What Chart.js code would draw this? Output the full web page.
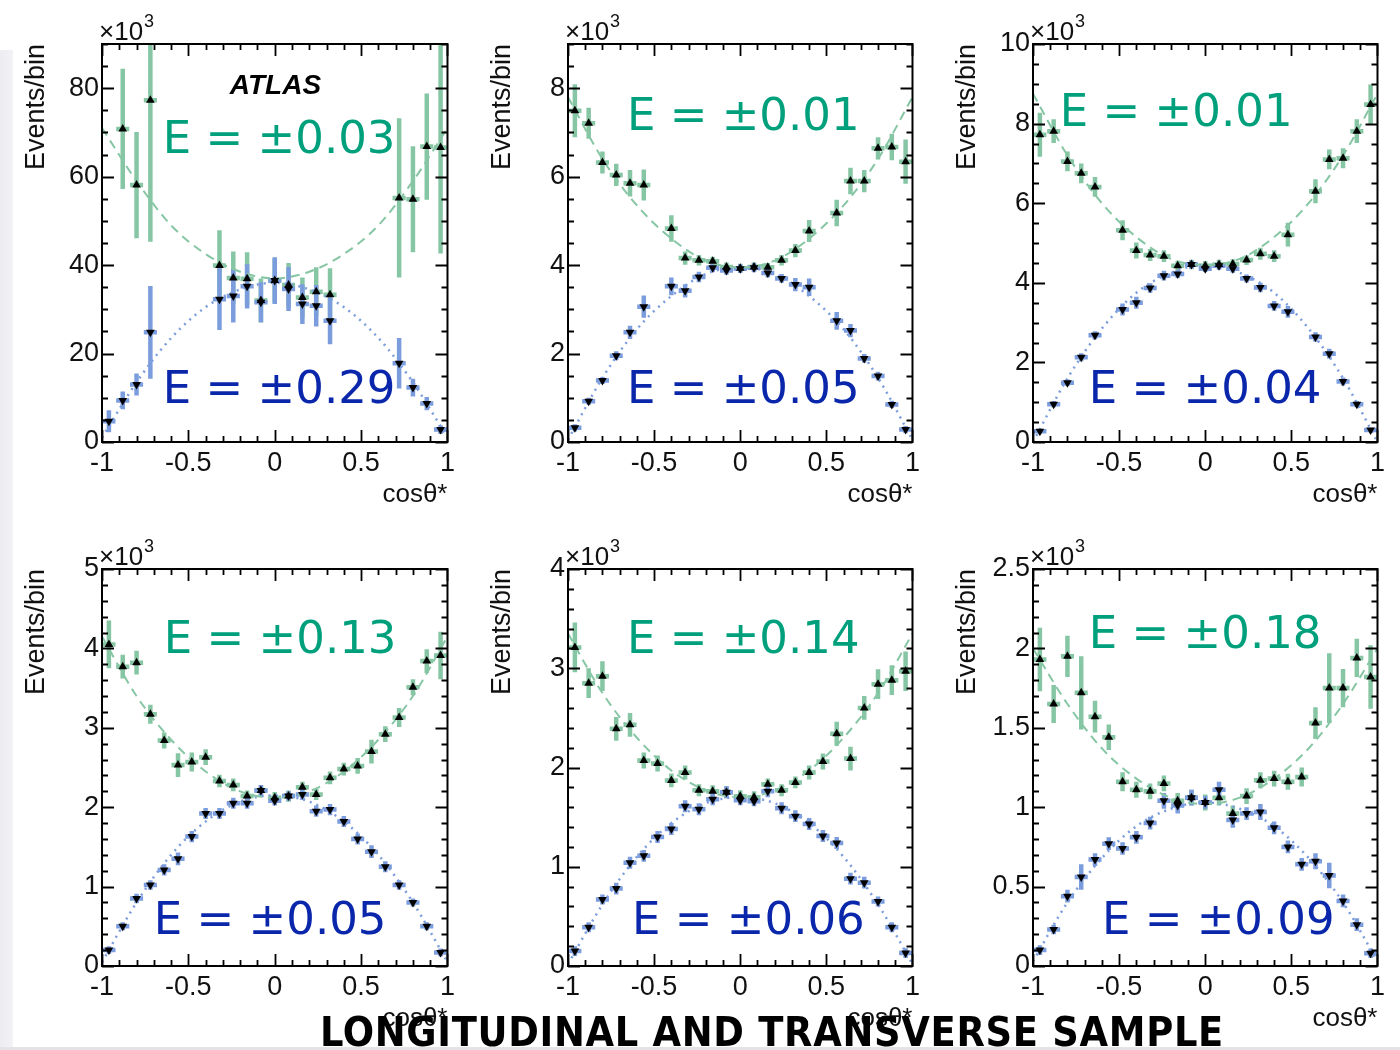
<!DOCTYPE html>
<html><head><meta charset="utf-8">
<script src="https://cdn.jsdelivr.net/npm/chart.js@4.4.1/dist/chart.umd.min.js"></script>
<style>
html,body{margin:0;padding:0;background:#fff;}
body{width:1400px;height:1050px;position:relative;overflow:hidden;}
canvas{position:absolute;}
#strip{position:absolute;left:0;top:50px;width:13px;height:1000px;background:linear-gradient(to right,#ececf1,#f3f3f6);}
#bline{position:absolute;left:0;top:1047px;width:1400px;height:3px;background:#e4e4e8;}
#title{position:absolute;left:320px;top:1012px;font-family:'DejaVu Sans Condensed','DejaVu Sans',sans-serif;font-stretch:condensed;font-weight:bold;font-size:41px;line-height:41px;letter-spacing:0.7px;color:#000;white-space:nowrap;z-index:5;}
</style></head>
<body>
<div id="strip"></div><div id="bline"></div>
<canvas id="c1"></canvas><canvas id="c2"></canvas><canvas id="c3"></canvas>
<canvas id="c4"></canvas><canvas id="c5"></canvas><canvas id="c6"></canvas>
<div id="title">LONGITUDINAL AND TRANSVERSE SAMPLE</div>
<script>
// ---------- data ----------
const binCenters = [-0.96,-0.88,-0.80,-0.72,-0.64,-0.56,-0.48,-0.40,-0.32,-0.24,-0.16,-0.08,0.00,0.08,0.16,0.24,0.32,0.40,0.48,0.56,0.64,0.72,0.80,0.88,0.96];
const xTickValues = [-1,-0.5,0,0.5,1];
const fitX = [-1,-0.8,-0.6,-0.4,-0.2,0,0.2,0.4,0.6,0.8,1];
const yTitle = "Events/bin";
const xTitle = "cosθ*";
const mainTitle = "LONGITUDINAL AND TRANSVERSE SAMPLE";

// panel 1
const p1Long     = [null,70.8,58.1,77.3,null,null,null,null,39.9,37.1,36.9,32.0,36.5,35.5,32.7,34.0,33.3,null,null,null,null,55.2,54.9,66.8,66.6];
const p1LongErr  = [null,13.6,12,32,null,null,null,null,8,6,6,5,5,5,4.5,5.5,6,null,null,null,null,18,12,12,24];
const p1Trans    = [4.7,9.4,13.0,24.8,null,null,null,null,32.3,33.0,35.2,31.6,36.5,34.6,31.2,30.8,27.4,null,null,null,null,17.8,12.3,8.7,2.8];
const p1TransErr = [2.5,2,2.5,10.5,null,null,null,null,7,6,5,4.5,5.3,5,4.5,4.7,5.3,null,null,null,null,5.7,2,1.5,1];
const p1FitLong  = [71,59,49,42.5,38.5,37,38.5,42.5,49,59,71];
const p1FitTrans = [1,13.5,23.5,30.5,34.5,36,34.5,30.5,23.5,13.5,1];
const p1YTicks = [0,20,40,60,80];
const p1YMax = 90;
const p1TextLong = "E = ±0.03", p1TextTrans = "E = ±0.29";

// panel 2
const p2Long     = [7.49,7.21,6.32,6.04,5.85,5.81,null,4.83,4.16,4.11,4.09,3.96,3.93,3.96,3.95,4.11,4.33,4.77,null,5.18,5.90,5.90,6.64,6.67,6.34];
const p2LongErr  = [0.6,0.35,0.25,0.25,0.3,0.35,null,0.3,0.15,0.12,0.1,0.1,0.1,0.1,0.1,0.12,0.15,0.25,null,0.3,0.3,0.25,0.25,0.3,0.5];
const p2Trans    = [0.32,0.92,1.39,1.95,2.48,3.06,null,3.52,3.42,3.73,3.94,3.88,3.92,3.94,3.82,3.70,3.56,3.50,null,2.74,2.52,1.89,1.49,0.85,0.28];
const p2TransErr = [0.08,0.08,0.08,0.1,0.15,0.25,null,0.2,0.15,0.12,0.1,0.1,0.1,0.1,0.1,0.1,0.15,0.2,null,0.2,0.15,0.1,0.1,0.08,0.08];
const p2FitLong  = [7.8,6.4,5.35,4.6,4.1,3.95,4.1,4.6,5.35,6.4,7.8];
const p2FitTrans = [0.05,1.45,2.55,3.3,3.8,3.95,3.8,3.3,2.55,1.45,0.05];
const p2YTicks = [0,2,4,6,8];
const p2YMax = 9;
const p2TextLong = "E = ±0.01", p2TextTrans = "E = ±0.05";

// panel 3
const p3Long     = [7.72,7.81,7.05,6.75,6.41,null,5.32,4.81,4.70,4.67,4.43,4.46,4.43,4.46,4.47,4.57,4.73,4.67,5.21,null,6.30,7.10,7.13,7.81,8.48];
const p3LongErr  = [0.55,0.3,0.25,0.25,0.25,null,0.25,0.2,0.15,0.15,0.12,0.12,0.12,0.12,0.12,0.12,0.15,0.15,0.3,null,0.3,0.25,0.25,0.3,0.5];
const p3Trans    = [0.27,0.95,1.49,2.13,2.68,null,3.33,3.50,3.87,4.18,4.22,4.46,4.35,4.43,4.35,4.11,3.88,3.42,3.27,null,2.64,2.22,1.52,0.95,0.30];
const p3TransErr = [0.06,0.08,0.08,0.1,0.1,null,0.15,0.15,0.12,0.12,0.1,0.1,0.08,0.1,0.1,0.1,0.12,0.12,0.15,null,0.12,0.12,0.1,0.08,0.06];
const p3FitLong  = [8.75,7.2,6.0,5.15,4.6,4.45,4.6,5.15,6.0,7.2,8.75];
const p3FitTrans = [0.0,1.6,2.85,3.75,4.25,4.45,4.25,3.75,2.85,1.6,0.0];
const p3YTicks = [0,2,4,6,8,10];
const p3YMax = 10;
const p3TextLong = "E = ±0.01", p3TextTrans = "E = ±0.04";

// panel 4
const p4Long     = [4.05,3.77,3.82,3.17,2.84,2.53,2.57,2.63,2.33,2.28,2.14,2.21,2.12,2.14,2.25,2.16,2.37,2.48,2.52,2.70,2.92,3.13,3.51,3.84,3.91];
const p4LongErr  = [0.3,0.15,0.15,0.12,0.1,0.15,0.12,0.1,0.08,0.08,0.07,0.07,0.07,0.07,0.07,0.07,0.08,0.08,0.1,0.15,0.1,0.12,0.1,0.15,0.3];
const p4Trans    = [0.20,0.50,0.85,1.02,1.21,1.35,1.63,1.92,1.92,2.05,2.05,2.21,2.08,2.14,2.16,1.95,1.97,1.82,1.60,1.44,1.25,1.02,0.80,0.50,0.17];
const p4TransErr = [0.05,0.05,0.06,0.06,0.07,0.08,0.07,0.07,0.07,0.07,0.07,0.07,0.06,0.06,0.07,0.07,0.07,0.07,0.07,0.08,0.07,0.06,0.05,0.05,0.05];
const p4FitLong  = [4.15,3.4,2.85,2.45,2.2,2.12,2.2,2.45,2.85,3.4,4.15];
const p4FitTrans = [0.05,0.8,1.4,1.82,2.07,2.15,2.07,1.82,1.4,0.8,0.05];
const p4YTicks = [0,1,2,3,4,5];
const p4YMax = 5;
const p4TextLong = "E = ±0.13", p4TextTrans = "E = ±0.05";

// panel 5
const p5Long     = [3.21,2.85,2.92,2.39,2.43,2.07,2.04,1.87,1.95,1.77,1.76,1.75,1.71,1.70,1.83,1.77,1.85,1.95,2.06,2.34,2.09,2.60,2.84,2.88,2.97];
const p5LongErr  = [0.25,0.15,0.15,0.12,0.12,0.08,0.08,0.07,0.07,0.06,0.06,0.06,0.06,0.06,0.06,0.06,0.06,0.07,0.08,0.12,0.12,0.12,0.15,0.15,0.2];
const p5Trans    = [0.15,0.39,0.67,0.78,1.04,1.11,1.30,1.38,1.61,1.58,1.68,1.75,1.67,1.66,1.76,1.59,1.51,1.43,1.31,1.24,0.88,0.84,0.65,0.39,0.13];
const p5TransErr = [0.05,0.05,0.05,0.06,0.06,0.06,0.06,0.06,0.06,0.06,0.06,0.06,0.05,0.05,0.06,0.06,0.06,0.06,0.06,0.06,0.06,0.06,0.05,0.05,0.05];
const p5FitLong  = [3.35,2.75,2.3,1.97,1.77,1.7,1.77,1.97,2.3,2.75,3.35];
const p5FitTrans = [0.02,0.62,1.1,1.44,1.64,1.7,1.64,1.44,1.1,0.62,0.02];
const p5YTicks = [0,1,2,3,4];
const p5YMax = 4;
const p5TextLong = "E = ±0.14", p5TextTrans = "E = ±0.06";

// panel 6
const p6Long     = [1.93,1.65,1.95,1.72,1.57,1.44,1.16,1.11,1.10,1.15,1.04,1.06,1.03,1.06,0.96,1.07,1.17,1.18,1.16,1.19,1.53,1.75,1.75,1.94,1.82];
const p6LongErr  = [0.2,0.12,0.13,0.23,0.1,0.08,0.06,0.05,0.05,0.05,0.05,0.05,0.05,0.05,0.05,0.05,0.05,0.05,0.05,0.06,0.1,0.22,0.12,0.12,0.2];
const p6Trans    = [0.10,0.23,0.44,0.56,0.67,0.77,0.74,0.81,0.90,1.04,1.01,1.06,1.03,1.11,0.92,0.96,0.97,0.87,0.75,0.64,0.66,0.57,0.41,0.26,0.08];
const p6TransErr = [0.03,0.03,0.04,0.08,0.04,0.04,0.04,0.04,0.04,0.05,0.05,0.05,0.04,0.05,0.05,0.04,0.05,0.04,0.04,0.04,0.05,0.08,0.04,0.04,0.03];
const p6FitLong  = [2.0,1.65,1.37,1.18,1.06,1.02,1.06,1.18,1.37,1.65,2.0];
const p6FitTrans = [0.03,0.4,0.68,0.88,0.99,1.03,0.99,0.88,0.68,0.4,0.03];
const p6YTicks = [0,0.5,1,1.5,2,2.5];
const p6YMax = 2.5;
const p6TextLong = "E = ±0.18", p6TextTrans = "E = ±0.09";

// ---------- styles / layout ----------
const GREEN_BAR = '#86c6a4', BLUE_BAR = '#7c9ddd';
const GREEN_TXT = '#00a07c', BLUE_TXT = '#0a26ab';
const BIN_HALF = 0.04;
const FONT = '"Liberation Sans", Arial, sans-serif';
const PAD_L = 100, PAD_T = 44, PAD_R = 12, PAD_B = 80;

const panels = [
  {id:'c1', left:102, top:44, w:346, h:398, L:p1Long, LE:p1LongErr, T:p1Trans, TE:p1TransErr, FL:p1FitLong, FT:p1FitTrans, yt:p1YTicks, ymax:p1YMax, minor:5,   tL:p1TextLong, tT:p1TextTrans, posL:[0.176,0.274], posT:[0.176,0.902], atlas:true},
  {id:'c2', left:568, top:44, w:345, h:398, L:p2Long, LE:p2LongErr, T:p2Trans, TE:p2TransErr, FL:p2FitLong, FT:p2FitTrans, yt:p2YTicks, ymax:p2YMax, minor:0.5, tL:p2TextLong, tT:p2TextTrans, posL:[0.171,0.216], posT:[0.171,0.902]},
  {id:'c3', left:1033,top:44, w:345, h:398, L:p3Long, LE:p3LongErr, T:p3Trans, TE:p3TransErr, FL:p3FitLong, FT:p3FitTrans, yt:p3YTicks, ymax:p3YMax, minor:0.5, tL:p3TextLong, tT:p3TextTrans, posL:[0.078,0.206], posT:[0.162,0.902]},
  {id:'c4', left:102, top:569,w:346, h:397, L:p4Long, LE:p4LongErr, T:p4Trans, TE:p4TransErr, FL:p4FitLong, FT:p4FitTrans, yt:p4YTicks, ymax:p4YMax, minor:0.2, tL:p4TextLong, tT:p4TextTrans, posL:[0.179,0.212], posT:[0.150,0.919]},
  {id:'c5', left:568, top:569,w:345, h:397, L:p5Long, LE:p5LongErr, T:p5Trans, TE:p5TransErr, FL:p5FitLong, FT:p5FitTrans, yt:p5YTicks, ymax:p5YMax, minor:0.2, tL:p5TextLong, tT:p5TextTrans, posL:[0.171,0.212], posT:[0.186,0.919]},
  {id:'c6', left:1033,top:569,w:345, h:397, L:p6Long, LE:p6LongErr, T:p6Trans, TE:p6TransErr, FL:p6FitLong, FT:p6FitTrans, yt:p6YTicks, ymax:p6YMax, minor:0.1, tL:p6TextLong, tT:p6TextTrans, posL:[0.162,0.199], posT:[0.200,0.919]}
];

// ---------- plugins ----------
const errBarPlugin = {
  id: 'errbars',
  beforeDatasetsDraw(chart) {
    const {ctx, chartArea: a, scales: {x, y}} = chart;
    ctx.save();
    ctx.beginPath(); ctx.rect(a.left, a.top, a.right - a.left, a.bottom - a.top); ctx.clip();
    chart.data.datasets.forEach(ds => {
      if (!ds.errColor) return;
      ctx.strokeStyle = ds.errColor; ctx.lineWidth = 4.5; ctx.lineCap = 'butt';
      ds.data.forEach(d => {
        const px = x.getPixelForValue(d.x), py = y.getPixelForValue(d.y);
        ctx.beginPath();
        ctx.moveTo(px, y.getPixelForValue(d.y - d.err));
        ctx.lineTo(px, y.getPixelForValue(d.y + d.err));
        ctx.moveTo(x.getPixelForValue(d.x - BIN_HALF * 0.95), py);
        ctx.lineTo(x.getPixelForValue(d.x + BIN_HALF * 0.95), py);
        ctx.stroke();
      });
    });
    ctx.restore();
  }
};

const frameTextPlugin = {
  id: 'frametext',
  afterDraw(chart) {
    const {ctx, chartArea: a, scales: {x, y}} = chart;
    const p = chart.options.plugins.frametext;
    const W = a.right - a.left, H = a.bottom - a.top;
    ctx.save();
    ctx.strokeStyle = '#000'; ctx.lineWidth = 2;
    ctx.strokeRect(a.left, a.top, W, H);
    ctx.lineWidth = 1.8;
    ctx.beginPath();
    for (let k = 0; k <= 20; k++) {
      const v = -1 + k * 0.1;
      const px = Math.round(x.getPixelForValue(v)) + 0.5;
      const len = (k % 5 === 0) ? 12 : 6;
      ctx.moveTo(px, a.bottom); ctx.lineTo(px, a.bottom - len);
      ctx.moveTo(px, a.top); ctx.lineTo(px, a.top + len);
    }
    const nMinor = Math.round(p.ymax / p.minor);
    const majorStep = p.yt[1] - p.yt[0];
    for (let k = 0; k <= nMinor; k++) {
      const v = k * p.minor;
      const py = Math.round(y.getPixelForValue(v)) + 0.5;
      const isMaj = Math.abs(v / majorStep - Math.round(v / majorStep)) < 1e-6;
      const len = isMaj ? 12 : 6;
      ctx.moveTo(a.left, py); ctx.lineTo(a.left + len, py);
      ctx.moveTo(a.right, py); ctx.lineTo(a.right - len, py);
    }
    ctx.stroke();

    // x10^3
    ctx.fillStyle = '#111';
    ctx.textBaseline = 'alphabetic'; ctx.textAlign = 'left';
    ctx.font = '26px ' + FONT;
    ctx.fillText('×10', a.left - 3, a.top - 4);
    const wx = ctx.measureText('×10').width;
    ctx.font = '18px ' + FONT;
    ctx.fillText('3', a.left - 3 + wx + 1, a.top - 17);

    // E texts
    ctx.font = '45px "DejaVu Sans", Verdana, sans-serif';
    ctx.fillStyle = GREEN_TXT;
    ctx.fillText(p.tL, a.left + p.posL[0] * W, a.top + p.posL[1] * H);
    ctx.fillStyle = BLUE_TXT;
    ctx.fillText(p.tT, a.left + p.posT[0] * W, a.top + p.posT[1] * H);

    if (p.atlas) {
      ctx.fillStyle = '#000';
      ctx.font = 'italic bold 28px ' + FONT;
      ctx.fillText('ATLAS', a.left + 0.37 * W, a.top + 0.126 * H);
    }
    ctx.restore();
  }
};

// ---------- build charts ----------
function pts(vals, errs) {
  const out = [];
  binCenters.forEach((xv, i) => { if (vals[i] !== null) out.push({x: xv, y: vals[i], err: errs[i]}); });
  return out;
}
function fitPts(vals) { return fitX.map((xv, i) => ({x: xv, y: vals[i]})); }

panels.forEach(p => {
  const cv = document.getElementById(p.id);
  const cw = p.w + PAD_L + PAD_R, ch = p.h + PAD_T + PAD_B;
  cv.width = cw; cv.height = ch;
  cv.style.left = (p.left - PAD_L) + 'px';
  cv.style.top = (p.top - PAD_T) + 'px';
  cv.style.width = cw + 'px'; cv.style.height = ch + 'px';

  new Chart(cv, {
    type: 'scatter',
    data: {
      datasets: [
        {label: 'L', data: pts(p.L, p.LE), errColor: GREEN_BAR, pointStyle: 'triangle', pointRadius: 5, pointBackgroundColor: '#000', pointBorderColor: '#000', pointBorderWidth: 0, order: 0},
        {label: 'T', data: pts(p.T, p.TE), errColor: BLUE_BAR, pointStyle: 'triangle', rotation: 180, pointRadius: 5, pointBackgroundColor: '#000', pointBorderColor: '#000', pointBorderWidth: 0, order: 0},
        {type: 'line', label: 'fitL', data: fitPts(p.FL), borderColor: GREEN_BAR, borderWidth: 2, borderDash: [9, 6], pointRadius: 0, cubicInterpolationMode: 'monotone', fill: false, order: 1},
        {type: 'line', label: 'fitT', data: fitPts(p.FT), borderColor: BLUE_BAR, borderWidth: 2.5, borderDash: [2, 5], pointRadius: 0, cubicInterpolationMode: 'monotone', fill: false, order: 1}
      ]
    },
    options: {
      responsive: false, animation: false, devicePixelRatio: 1,
      layout: {padding: {left: 0, top: PAD_T, right: PAD_R, bottom: 0}},
      plugins: {
        legend: {display: false}, tooltip: {enabled: false},
        frametext: {yt: p.yt, ymax: p.ymax, minor: p.minor, tL: p.tL, tT: p.tT, posL: p.posL, posT: p.posT, atlas: !!p.atlas}
      },
      scales: {
        x: {
          type: 'linear', min: -1, max: 1,
          grid: {display: false, drawTicks: false}, border: {display: false},
          afterBuildTicks: s => { s.ticks = xTickValues.map(v => ({value: v})); },
          afterFit: s => { s.height = PAD_B; },
          ticks: {padding: 5, color: '#111', font: {family: FONT, size: 27}, callback: v => String(v), maxRotation: 0, autoSkip: false},
          title: {display: true, text: xTitle, align: 'end', color: '#111', font: {family: FONT, size: 26}, padding: {top: 0, bottom: 12}}
        },
        y: {
          type: 'linear', min: 0, max: p.ymax,
          grid: {display: false, drawTicks: false}, border: {display: false},
          afterBuildTicks: s => { s.ticks = p.yt.map(v => ({value: v})); },
          afterFit: s => { s.width = PAD_L; },
          ticks: {padding: 3, color: '#111', font: {family: FONT, size: 27}, callback: v => String(v), autoSkip: false},
          title: {display: true, text: yTitle, align: 'end', color: '#111', font: {family: FONT, size: 27}, padding: {top: 18, bottom: 0}}
        }
      }
    },
    plugins: [errBarPlugin, frameTextPlugin]
  });
});
</script>
</body></html>
